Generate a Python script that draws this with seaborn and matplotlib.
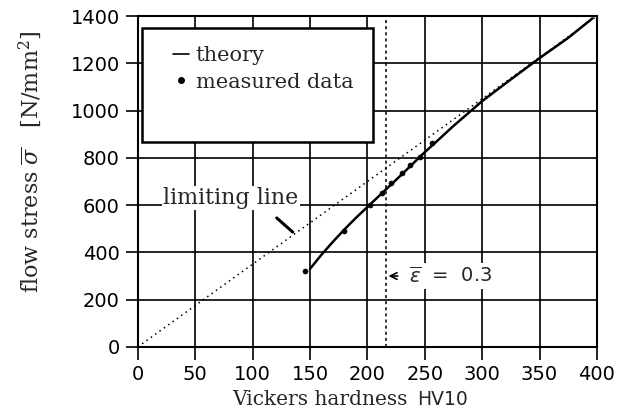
import pandas as pd
import matplotlib.pyplot as plt
import seaborn as sns
from matplotlib.lines import Line2D
from matplotlib.patches import Rectangle

# data
theory_hv = [150, 160, 170, 180, 190, 200, 210, 220, 230, 240, 250, 260,
             275, 300, 325, 350, 375, 396]
theory_stress = [330, 390, 445, 497, 546, 592, 638, 684, 730, 777, 824, 868,
                 935, 1040, 1132, 1222, 1308, 1390]

measured_hv = [146, 180, 202, 213, 221, 230, 237, 246, 256]
measured_stress = [323, 490, 600, 650, 692, 734, 772, 804, 862]

limit_hv = [0, 400]
limit_stress = [0, 1400]

strain_hv = 216
strain_label = r'$\overline{\varepsilon}$  =  0.3'

df_theory = pd.DataFrame({'hv': theory_hv, 'stress': theory_stress})
df_meas = pd.DataFrame({'hv': measured_hv, 'stress': measured_stress})
df_limit = pd.DataFrame({'hv': limit_hv, 'stress': limit_stress})

sns.set_theme(style="ticks")
plt.rcParams['font.family'] = ['DejaVu Serif']
plt.rcParams['mathtext.fontset'] = 'dejavuserif'

fig = plt.figure(figsize=(6.35, 4.13), dpi=100)
ax = fig.add_axes([0.217, 0.160, 0.723, 0.801])

# grid
ax.set_xticks(range(0, 401, 50))
ax.set_yticks(range(0, 1401, 200))
ax.grid(True, color='black', linewidth=1.2)
ax.set_axisbelow(True)

sns.lineplot(data=df_limit, x='hv', y='stress', ax=ax, color='black',
             linestyle=(0, (1, 2.5)), linewidth=1.1, zorder=3)
sns.lineplot(data=df_theory, x='hv', y='stress', ax=ax, color='black',
             linewidth=1.8, zorder=4)
sns.scatterplot(data=df_meas, x='hv', y='stress', ax=ax, color='black',
                s=14, edgecolor='black', zorder=5)

ax.axvline(strain_hv, color='black', linestyle=(0, (2, 2)), linewidth=1.1, zorder=3)

ax.set_xlim(0, 400)
ax.set_ylim(0, 1400)
for s in ax.spines.values():
    s.set_linewidth(1.5)
    s.set_color('black')

ax.tick_params(direction='out', length=9, width=1.2, colors='black', labelsize=14, pad=4)
for lab in ax.get_xticklabels() + ax.get_yticklabels():
    lab.set_family('DejaVu Sans')

ax.set_xlabel('Vickers hardness', fontsize=14.5, ha='left', va='baseline')
ax.xaxis.set_label_coords(0.205, -0.175)
fig.text(0.657, 0.019, 'HV10', family='DejaVu Sans', fontsize=13.5)
ax.set_ylabel(r'flow stress $\overline{\sigma}$   [N/mm$^2$]', fontsize=16)
ax.yaxis.set_label_coords(-0.205, 0.56)

# legend box
box = Rectangle((0.009, 0.619), 0.503, 0.345, transform=ax.transAxes,
                facecolor='white', edgecolor='black', linewidth=1.8, zorder=6)
ax.add_patch(box)
handles = [Line2D([], [], color='black', linewidth=1.2),
           Line2D([], [], color='black', marker='o', markersize=4, linestyle='none')]
leg = ax.legend(handles, ['theory', 'measured data'], loc='upper left',
                bbox_to_anchor=(0.035, 0.965), frameon=False, fontsize=15,
                handlelength=0.8, handletextpad=0.3, labelspacing=0.35)
leg.set_zorder(7)

ax.text(22, 630, 'limiting line', fontsize=16, va='center', zorder=6,
        bbox=dict(facecolor='white', edgecolor='none', pad=1))
ax.plot([121, 135], [546, 486], color='black', linewidth=2.2, zorder=6)

ax.annotate('', xy=(strain_hv, 300), xytext=(229, 300),
            arrowprops=dict(arrowstyle='->', color='black', lw=1.2), zorder=6)
ax.text(236, 300, strain_label, fontsize=14, va='center', zorder=6,
        family='DejaVu Sans', math_fontfamily='dejavusans',
        bbox=dict(facecolor='white', edgecolor='none', pad=2))

plt.savefig('out.png', dpi=100)
